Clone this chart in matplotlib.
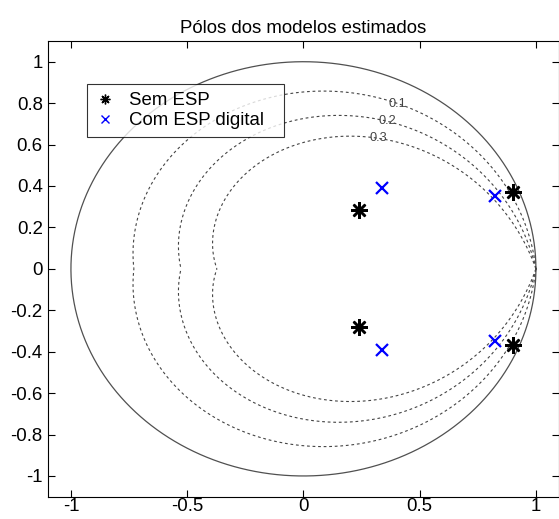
import matplotlib
matplotlib.use("Agg")
import matplotlib.pyplot as plt
import numpy as np

# pole locations
sem_esp_re = [0.24, 0.24, 0.903, 0.903]
sem_esp_im = [0.283, -0.283, 0.37, -0.37]
com_esp_re = [0.337, 0.337, 0.826, 0.826]
com_esp_im = [0.39, -0.39, 0.35, -0.35]

zetas = [0.1, 0.2, 0.3]
zeta_labels = ["0.1", "0.2", "0.3"]
x_ticks = [-1, -0.5, 0, 0.5, 1]
x_ticklabels = ["-1", "-0.5", "0", "0.5", "1"]
y_ticks = [-1, -0.8, -0.6, -0.4, -0.2, 0, 0.2, 0.4, 0.6, 0.8, 1]
y_ticklabels = ["-1", "-0.8", "-0.6", "-0.4", "-0.2", "0", "0.2", "0.4", "0.6", "0.8", "1"]

plt.rcParams['font.family'] = ['Liberation Sans', 'DejaVu Sans']
plt.rcParams['font.size'] = 13.4

fig = plt.figure(figsize=(5.59, 5.19), dpi=100)
ax = fig.add_axes([0.0853, 0.043, 0.915, 0.878])

# unit circle
th = np.linspace(0, 2 * np.pi, 400)
ax.plot(np.cos(th), np.sin(th), color='#505050', lw=0.9)

# constant damping curves (zgrid style)
theta = np.linspace(0, np.pi, 300)
for z, lab in zip(zetas, zeta_labels):
    k = z / np.sqrt(1 - z ** 2)
    r = np.exp(-k * theta)
    x = r * np.cos(theta)
    y = r * np.sin(theta)
    ax.plot(x, y, color='#444444', lw=0.8, linestyle=(0, (2.5, 2.5)))
    ax.plot(x, -y, color='#444444', lw=0.8, linestyle=(0, (2.5, 2.5)))
    t0 = 1.1
    r0 = np.exp(-k * t0)
    ax.text(r0 * np.cos(t0), r0 * np.sin(t0), lab, fontsize=9.2, color='#444444',
            ha='center', va='center')

ax.plot(sem_esp_re, sem_esp_im, linestyle='none', marker=(8, 2, 0), markersize=12,
        markeredgewidth=1.8, color='black', label='Sem ESP')
ax.plot(com_esp_re, com_esp_im, linestyle='none', marker='x', markersize=9,
        markeredgewidth=1.6, color='#0000ff', label='Com ESP digital')

ax.set_xlim(-1.1, 1.1)
ax.set_ylim(-1.1, 1.1)
ax.set_xticks(x_ticks)
ax.set_xticklabels(x_ticklabels)
ax.set_yticks(y_ticks)
ax.set_yticklabels(y_ticklabels)
ax.tick_params(direction='in', top=True, right=True, length=5, width=0.8, pad=3.6)
ax.tick_params(axis='x', pad=1.2)
for s in ax.spines.values():
    s.set_linewidth(0.8)
ax.set_title('Pólos dos modelos estimados', fontsize=13.4, pad=5.8)

leg = ax.legend(loc='upper left', bbox_to_anchor=(0.0768, 0.789, 0.3856, 0.117),
                mode='expand', frameon=True, fancybox=False, edgecolor='black',
                handletextpad=0.79, borderpad=0.45, labelspacing=0.15,
                handlelength=1.0, fontsize=13.4, borderaxespad=0)
leg.get_frame().set_linewidth(0.8)
leg.legend_handles[0].set_markersize(7)
leg.legend_handles[0].set_markeredgewidth(1.0)
leg.legend_handles[1].set_markersize(6)
leg.legend_handles[1].set_markeredgewidth(1.0)

fig.savefig('out.png', dpi=100)
